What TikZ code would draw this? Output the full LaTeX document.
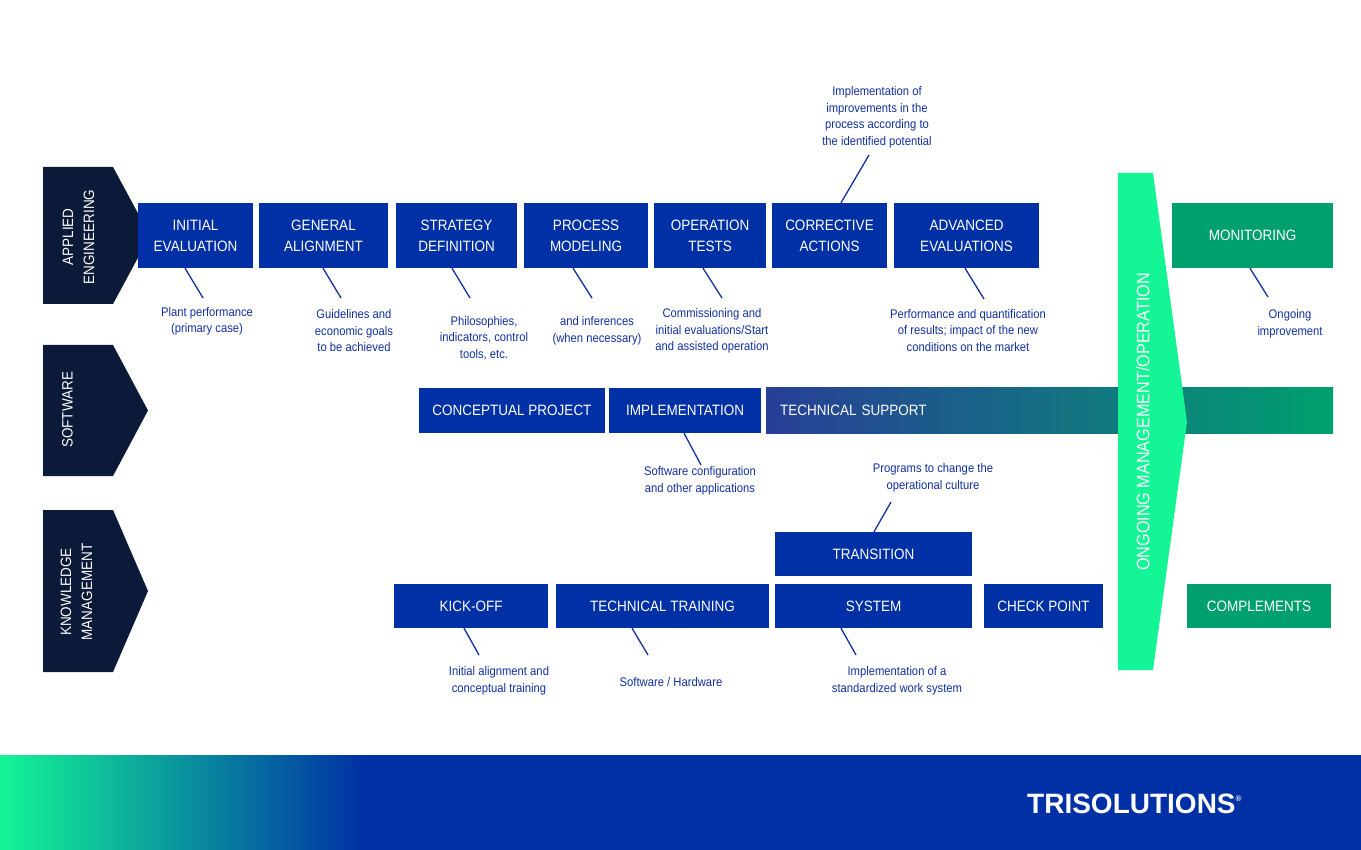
\documentclass[tikz,border=0pt]{standalone}
\usepackage{fontspec}
\setmainfont[FakeStretch=0.9]{Liberation Sans}
\newfontfamily\logofont{Liberation Sans}
\definecolor{boxblue}{RGB}{0,48,165}
\definecolor{lblblue}{RGB}{18,48,160}
\definecolor{navy}{RGB}{10,26,56}
\definecolor{brightgreen}{RGB}{20,245,150}
\definecolor{darkgreen}{RGB}{0,160,110}
\definecolor{tsleft}{RGB}{40,62,152}
\definecolor{tsmid}{RGB}{0,112,135}
\begin{document}
\begin{tikzpicture}[x=1pt,y=-1pt]
\tikzset{
 box/.style={rectangle, fill=boxblue, text=white, inner sep=0pt, align=center, font=\fontsize{15}{21}\selectfont},
 gbox/.style={box, fill=darkgreen},
 lbl/.style={text=lblblue, align=center, inner sep=0pt, font=\fontsize{12.5}{16.5}\selectfont},
 lead/.style={draw=lblblue, line width=1.3pt},
 side/.style={text=white, rotate=90, align=center, inner sep=0pt, font=\fontsize{15}{21}\selectfont},
}
\useasboundingbox (0,0) rectangle (1361,850);
\fill[white] (0,0) rectangle (1361,850);

% left row arrows
\fill[navy] (43,167) -- (113,167) -- (150,235.5) -- (113,304) -- (43,304) -- cycle;
\fill[navy] (43,345) -- (113,345) -- (148,410.5) -- (113,476) -- (43,476) -- cycle;
\fill[navy] (43,510) -- (113,510) -- (148,591) -- (113,672) -- (43,672) -- cycle;
\node[side] (sae) at (78.5,237) {APPLIED\\ENGINEERING};
\node[side] (ssw) at (67.5,410) {SOFTWARE};
\node[side] (skm) at (76.5,592) {KNOWLEDGE\\MANAGEMENT};

% applied engineering row
\node[box, minimum width=115pt, minimum height=65pt] (initial) at (195.5,235.5) {INITIAL\\EVALUATION};
\node[box, minimum width=129pt, minimum height=65pt] (general) at (323.5,235.5) {GENERAL\\ALIGNMENT};
\node[box, minimum width=121pt, minimum height=65pt] (strategy) at (456.5,235.5) {STRATEGY\\DEFINITION};
\node[box, minimum width=124pt, minimum height=65pt] (process) at (586,235.5) {PROCESS\\MODELING};
\node[box, minimum width=112pt, minimum height=65pt] (operation) at (710,235.5) {OPERATION\\TESTS};
\node[box, minimum width=115pt, minimum height=65pt] (corrective) at (829.5,235.5) {CORRECTIVE\\ACTIONS};
\node[box, minimum width=145pt, minimum height=65pt] (advanced) at (966.5,235.5) {ADVANCED\\EVALUATIONS};
\node[gbox, minimum width=161pt, minimum height=65pt] (monitoring) at (1252.5,235.5) {MONITORING};

% software row
\node[box, minimum width=186pt, minimum height=45pt] (conceptual) at (512,410.5) {CONCEPTUAL PROJECT};
\node[box, minimum width=152pt, minimum height=45pt] (implementation) at (685,410.5) {IMPLEMENTATION};
\node[box, left color=tsleft, middle color=tsmid, right color=darkgreen, text width=539pt, inner xsep=14pt, align=left, minimum height=45pt] (techsupport) at (1049.5,410.5) {TECHNICAL SUPPORT};

% knowledge management row
\node[box, minimum width=197pt, minimum height=44pt] (transition) at (873.5,554) {TRANSITION};
\node[box, minimum width=154pt, minimum height=44pt] (kickoff) at (471,606) {KICK-OFF};
\node[box, minimum width=213pt, minimum height=44pt] (techtraining) at (662.5,606) {TECHNICAL TRAINING};
\node[box, minimum width=197pt, minimum height=44pt] (system) at (873.5,606) {SYSTEM};
\node[box, minimum width=119pt, minimum height=44pt] (checkpoint) at (1043.5,606) {CHECK POINT};
\node[gbox, minimum width=144pt, minimum height=44pt] (complements) at (1259,606) {COMPLEMENTS};

% ongoing management arrow
\fill[brightgreen] (1118,173) -- (1153,173) -- (1187,422) -- (1153,670) -- (1118,670) -- cycle;
\node[side, font=\fontsize{18}{21}\selectfont] (ongoing) at (1143,422) {ONGOING MANAGEMENT/OPERATION};

% labels
\node[lbl] (lp1) at (207,321.5) {Plant performance\\(primary case)};
\node[lbl] (lp2) at (354,331) {Guidelines and\\economic goals\\to be achieved};
\node[lbl] (lp3) at (484,338) {Philosophies,\\indicators, control\\tools, etc.};
\node[lbl] (lp4) at (597,331) {and inferences\\(when necessary)};
\node[lbl] (lp5) at (712,331) {Commissioning and\\initial evaluations/Start\\and assisted operation};
\node[lbl] (lp6) at (877,117.5) {Implementation of\\improvements in the\\process according to\\the identified potential};
\node[lbl] (lp7) at (968,330.5) {Performance and quantification\\of results; impact of the new\\conditions on the market};
\node[lbl] (lp8) at (1290,324) {Ongoing\\improvement};
\node[lbl] (ls1) at (700,481) {Software configuration\\and other applications};
\node[lbl] (lk0) at (933,478) {Programs to change the\\operational culture};
\node[lbl] (lk1) at (499,681) {Initial alignment and\\conceptual training};
\node[lbl] (lk2) at (671,682) {Software / Hardware};
\node[lbl] (lk3) at (897,681) {Implementation of a\\standardized work system};

% leader end points
\coordinate (e1) at (203,298);
\coordinate (e2) at (341,298);
\coordinate (e3) at (470,298);
\coordinate (e4) at (592,298);
\coordinate (e5) at (722,298);
\coordinate (e6) at (869,155);
\coordinate (e7) at (984,299);
\coordinate (e8) at (1268,297);
\coordinate (e9) at (701,465);
\coordinate (e10) at (891,502);
\coordinate (e11) at (479,655);
\coordinate (e12) at (648,655);
\coordinate (e13) at (856,655);

\draw[lead] (initial.south -| 185,0) -- (e1);
\draw[lead] (general.south -| 323,0) -- (e2);
\draw[lead] (strategy.south -| 452,0) -- (e3);
\draw[lead] (process.south -| 573,0) -- (e4);
\draw[lead] (operation.south -| 703,0) -- (e5);
\draw[lead] (corrective.north -| 841,0) -- (e6);
\draw[lead] (advanced.south -| 965,0) -- (e7);
\draw[lead] (monitoring.south -| 1250,0) -- (e8);
\draw[lead] (implementation.south -| 684,0) -- (e9);
\draw[lead] (transition.north -| 874,0) -- (e10);
\draw[lead] (kickoff.south -| 464,0) -- (e11);
\draw[lead] (techtraining.south -| 632,0) -- (e12);
\draw[lead] (system.south -| 841,0) -- (e13);

% footer
\shade[left color=brightgreen, right color=boxblue] (0,755) rectangle (365,850);
\fill[boxblue] (364.5,755) rectangle (1361,850);
\node[anchor=base west, inner sep=0pt, text=white, font=\logofont\bfseries\fontsize{28}{28}\selectfont] (logo) at (1027,813) {TRISOLUTIONS\raisebox{12pt}{\fontsize{8}{8}\selectfont ®}};
\end{tikzpicture}
\end{document}
